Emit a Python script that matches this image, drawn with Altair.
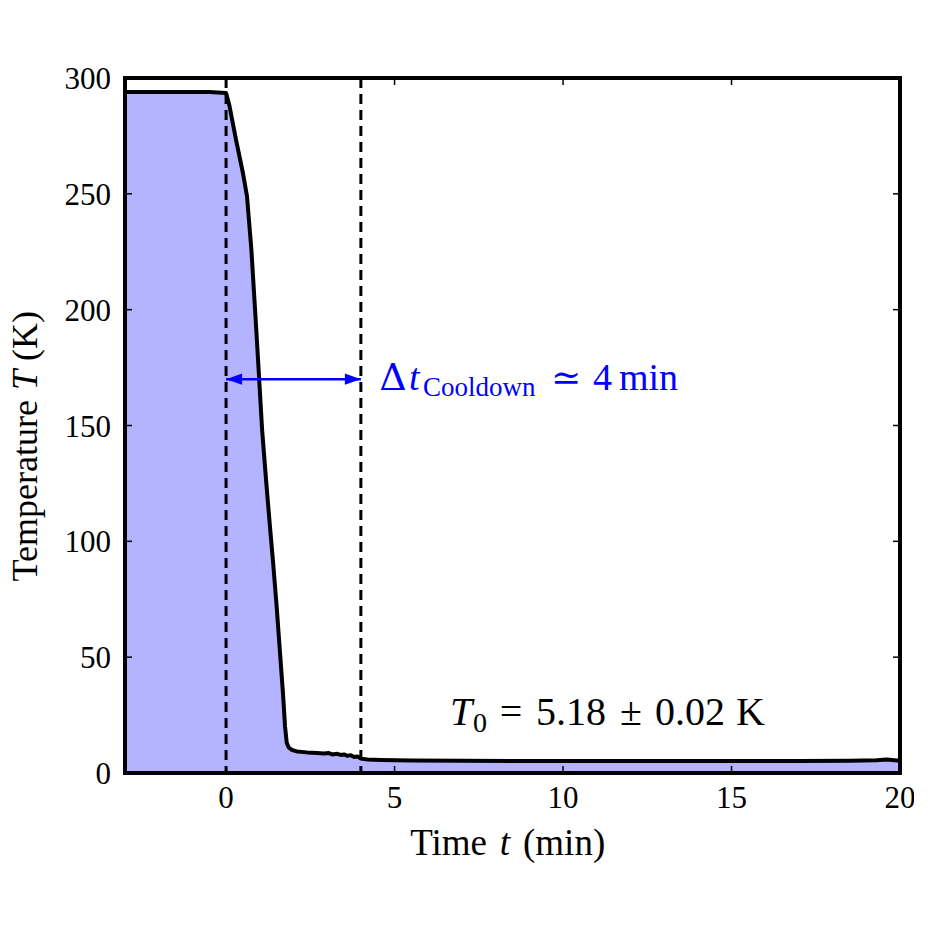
import altair as alt
import pandas as pd

# ---- data ----
time_min = [-3, -2, -1, -0.5, 0, 0.1, 0.3, 0.5, 0.62, 0.75, 0.86, 0.95, 1.07, 1.2, 1.31, 1.4,
            1.5, 1.6, 1.69, 1.75, 1.8, 1.86, 1.95, 2.1, 2.4, 2.7, 2.9, 3.05, 3.15, 3.3, 3.4,
            3.5, 3.6, 3.7, 3.8, 3.9, 4.0, 4.2, 4.6, 5.5, 7, 9, 11, 13, 15, 17, 18.5, 19.3,
            19.6, 20]
temp_K = [294, 294, 294, 294, 293.5, 288, 273, 259, 249, 226, 200, 178, 148, 124, 105, 90,
          72, 52, 34, 20, 13, 11, 10, 9.3, 8.9, 8.6, 8.4, 8.6, 8.0, 8.3, 7.8,
          8.0, 7.4, 7.7, 6.9, 7.1, 6.2, 5.8, 5.6, 5.4, 5.3, 5.2, 5.2, 5.2, 5.2, 5.2, 5.3, 5.5,
          5.8, 5.3]
x_ticks = [0, 5, 10, 15, 20]
y_ticks = [0, 50, 100, 150, 200, 250, 300]
marker_times = [0, 4]
arrow_from, arrow_to, arrow_T = 0, 4, 170
t_domain = [-3, 20]
T_domain = [0, 300]

W, H = 775, 695
FONT = "Liberation Serif"
MATH = "DejaVu Serif"
BLUE = "#0000ff"
FILL = "#b3b3ff"

df = pd.DataFrame({"t": time_min, "T": temp_K})
xt = pd.DataFrame({"t": x_ticks})
yt = pd.DataFrame({"T": y_ticks})
mk = pd.DataFrame({"t": marker_times})
arr = pd.DataFrame({"t": [arrow_from], "t_end": [arrow_to], "T": [arrow_T]})
one = pd.DataFrame({"k": [0]})

xs = alt.Scale(domain=t_domain, nice=False, zero=False)
ys = alt.Scale(domain=T_domain, nice=False, zero=False)

X = lambda f: alt.X(f, type="quantitative", scale=xs, axis=None)
Y = lambda f: alt.Y(f, type="quantitative", scale=ys, axis=None)

area = alt.Chart(df).mark_area(color=FILL, opacity=1).encode(x=X("t"), y=Y("T"))
line = alt.Chart(df).mark_line(color="black", strokeWidth=4, strokeJoin="round").encode(
    x=X("t"), y=Y("T"))

dashed = alt.Chart(mk).mark_rule(color="black", strokeWidth=3, strokeDash=[10, 6]).encode(
    x=X("t"), y=alt.value(0), y2=alt.value(H))

tick_len = 7
bt = alt.Chart(xt).mark_rule(color="black", strokeWidth=1.5).encode(
    x=X("t"), y=alt.value(H), y2=alt.value(H - tick_len))
tt = alt.Chart(xt).mark_rule(color="black", strokeWidth=1.5).encode(
    x=X("t"), y=alt.value(0), y2=alt.value(tick_len))
lt = alt.Chart(yt).mark_rule(color="black", strokeWidth=1.5).encode(
    y=Y("T"), x=alt.value(0), x2=alt.value(tick_len))
rt = alt.Chart(yt).mark_rule(color="black", strokeWidth=1.5).encode(
    y=Y("T"), x=alt.value(W), x2=alt.value(W - tick_len))

# tick labels drawn through the scales
xlab = alt.Chart(xt).mark_text(font=FONT, fontSize=31, color="black", align="center",
                               baseline="alphabetic").encode(
    x=X("t"), y=alt.value(H + 35), text=alt.Text("t:Q", format="d"))
ylab = alt.Chart(yt).mark_text(font=FONT, fontSize=31, color="black", align="right",
                               baseline="middle", dy=2).encode(
    y=Y("T"), x=alt.value(-14), text=alt.Text("T:Q", format="d"))

arrow_line = alt.Chart(arr).mark_rule(color=BLUE, strokeWidth=2.5).encode(
    x=X("t"), x2="t_end:Q", y=Y("T"))
head_l = alt.Chart(arr).mark_point(shape="M0,0L2,-0.7L2,0.7Z", filled=True, fill=BLUE,
                                    opacity=1, size=256).encode(x=X("t"), y=Y("T"))
head_r = alt.Chart(arr).mark_point(shape="M0,0L-2,-0.7L-2,0.7Z", filled=True, fill=BLUE,
                                    opacity=1, size=256).encode(x=X("t_end"), y=Y("T"))

frame = alt.Chart(one).mark_rect(fillOpacity=0, stroke="black", strokeWidth=4).encode(
    x=alt.value(0), x2=alt.value(W), y=alt.value(0), y2=alt.value(H))


def txt(s, px, py, size, color="black", italic=False, align="left", angle=0, font=FONT):
    return alt.Chart(one).mark_text(
        text=s, fontSize=size, font=font, fontStyle="italic" if italic else "normal",
        color=color, align=align, baseline="alphabetic", angle=angle).encode(
        x=alt.value(px), y=alt.value(py))


texts = [
    # x axis title
    txt("Time", 362, 777, 37, align="right"),
    txt("t", 380, 777, 37, italic=True, align="center"),
    txt("(min)", 398, 777, 37, align="left"),
    # y axis title (rotated)
    txt("Temperature", -88, 322, 36, align="right", angle=270),
    txt("T", -88, 302, 36, italic=True, align="center", angle=270),
    txt("(K)", -88, 283, 36, align="left", angle=270),
    # cooldown annotation
    txt("\u0394", 268, 312, 38, color=BLUE, align="center", font=MATH),
    txt("t", 284, 312, 38, color=BLUE, italic=True),
    txt("Cooldown", 298, 318, 27, color=BLUE),
    txt("\u2243", 441, 312, 36, color=BLUE, align="center", font=MATH),
    txt("4", 468, 312, 38, color=BLUE),
    txt("min", 494, 312, 38, color=BLUE),
    # T0 annotation
    txt("T", 325, 647, 40, italic=True),
    txt("0", 348, 654, 28),
    txt("=", 386, 647, 40, align="center"),
    txt("5.18", 411, 647, 40),
    txt("\u00b1", 506, 647, 40, align="center"),
    txt("0.02", 530, 647, 40),
    txt("K", 611, 647, 40),
]

chart = alt.layer(area, line, dashed, bt, tt, lt, rt, xlab, ylab, arrow_line, head_l,
                  head_r, frame, *texts).properties(
    width=W, height=H,
    autosize=alt.AutoSizeParams(type="none"),
    padding={"left": 117, "top": 70, "right": 14, "bottom": 120},
    background="white",
).configure_view(stroke=None).configure(font=FONT)

chart.save("out.html", embed_options={"renderer": "svg", "actions": False})
